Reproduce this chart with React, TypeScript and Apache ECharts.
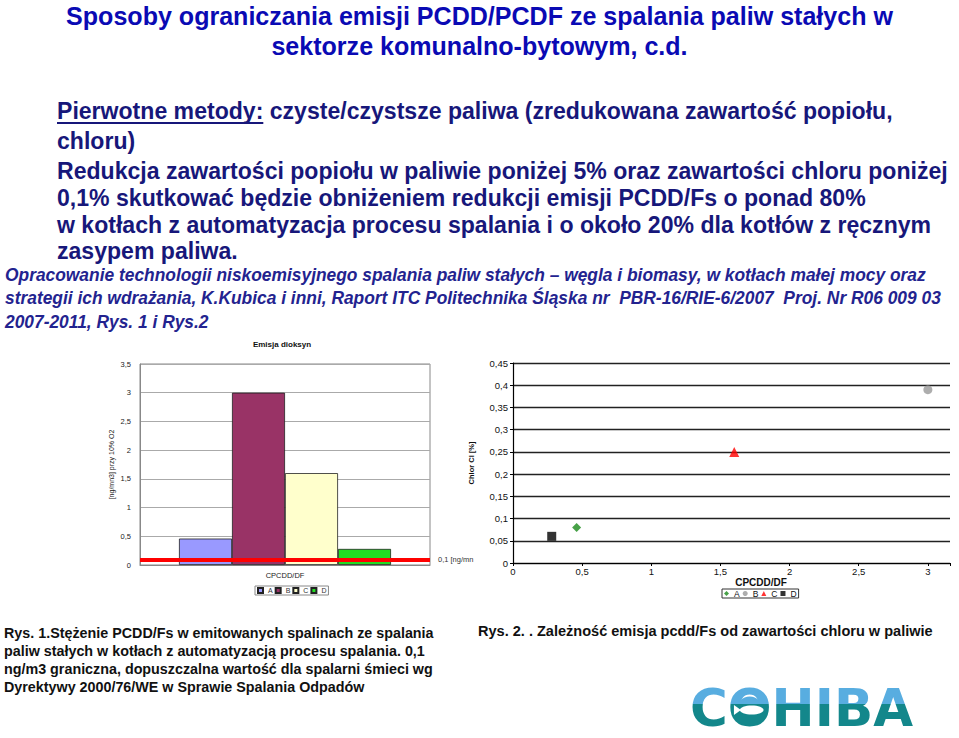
import React, { useEffect, useRef } from 'react';
import * as echarts from 'echarts';

// ---------- slide texts ----------
const titleLines = [
  'Sposoby ograniczania emisji PCDD/PCDF ze spalania paliw stałych w',
  'sektorze komunalno-bytowym, c.d.',
];
const bodyLead = 'Pierwotne metody:';
const bodyLines = [
  'Pierwotne metody: czyste/czystsze paliwa (zredukowana zawartość popiołu,',
  'chloru)',
  'Redukcja zawartości popiołu w paliwie poniżej 5% oraz zawartości chloru poniżej',
  '0,1% skutkować będzie obniżeniem redukcji emisji PCDD/Fs o ponad 80%',
  'w kotłach z automatyzacja procesu spalania i o około 20% dla kotłów z ręcznym',
  'zasypem paliwa.',
];
const sourceLines = [
  'Opracowanie technologii niskoemisyjnego spalania paliw stałych – węgla i biomasy, w kotłach małej mocy oraz',
  'strategii ich wdrażania, K.Kubica i inni, Raport ITC Politechnika Śląska nr  PBR-16/RIE-6/2007  Proj. Nr R06 009 03',
  '2007-2011, Rys. 1 i Rys.2',
];
const caption1Lines = [
  'Rys. 1.Stężenie PCDD/Fs w emitowanych spalinach ze spalania',
  'paliw stałych w kotłach z automatyzacją procesu spalania. 0,1',
  'ng/m3 graniczna, dopuszczalna wartość dla spalarni śmieci wg',
  'Dyrektywy 2000/76/WE w Sprawie Spalania Odpadów',
];
const caption2 = 'Rys. 2. . Zależność emisja pcdd/Fs od zawartości chloru w paliwie';
const logoText = 'COHIBA';

// ---------- chart data ----------
const barTitle = 'Emisja dioksyn';
const barCategories = ['CPCDD/DF'];
const sampleNames = ['A', 'B', 'C', 'D'];
const pcddValues = [0.46, 3.0, 1.6, 0.28];
const chlorineValues = [0.08, 0.39, 0.25, 0.06];
const limitValue = 0.1;
const limitLabel = '0,1 [ng/mn';
const barYAxisName = '[ng/mn3] przy 10% O2';
const scatterYAxisName = 'Chlor Cl [%]';
const scatterXAxisName = 'CPCDD/DF';

// ---------- styles ----------
const barColors = ['#9999ff', '#993366', '#ffffcc', '#22dd22'];
const scatterColors = ['#1a8a1a', '#999999', '#ff0000', '#000000'];
const scatterSymbols = ['diamond', 'circle', 'triangle', 'rect'];

const FF = '"Liberation Sans", Arial, sans-serif';
const LOGO_BLUE = '#58ade0';
const LOGO_TEAL = '#13878b';
const commaFmt = (v: number) => String(Math.round(v * 100) / 100).replace('.', ',');

export default function App() {
  const ref = useRef<HTMLDivElement>(null);
  useEffect(() => {
    const el = ref.current!;
    const chart = echarts.init(el, null, { renderer: 'svg' });
    const ctx = document.createElement('canvas').getContext('2d')!;
    const measure = (t: string, font: string) => {
      ctx.font = font;
      return ctx.measureText(t).width;
    };
    const fitSize = (t: string, weight: string, target: number) =>
      (20 * target) / measure(t, `${weight} 20px ${FF}`);

    const titleSize = fitSize(titleLines[0], 'bold', 827);
    const bodySize = fitSize(bodyLines[2], 'bold', 891);
    const srcFont = `italic bold 19px ${FF}`;
    const srcScale = 921 / measure(sourceLines[0], srcFont);
    const capSize = fitSize(caption1Lines[0], 'bold', 430);
    const cap2Size = fitSize(caption2, 'bold', 455);
    const logoFont = `bold 52px "DejaVu Sans", sans-serif`;
    const logoScale = 223 / measure(logoText, logoFont);
    const logoCW = measure('C', logoFont) * logoScale;
    const logoOW = measure('O', logoFont) * logoScale;
    const bodyFont = `bold ${bodySize}px ${FF}`;
    const leadWidth = measure(bodyLead, bodyFont);

    const txt = (
      text: string,
      x: number,
      y: number,
      font: string,
      fill: any,
      align = 'left',
      extra: any = {}
    ) => ({
      type: 'text',
      x,
      y,
      silent: true,
      style: { text, font, fill, align, verticalAlign: 'middle' },
      ...extra,
    });

    const titleY = [16, 46];
    const bodyY = [111, 141, 171, 198, 225, 251];
    const srcY = [275, 298, 322];
    const capY = [633, 651, 669, 687];

    const graphic: any[] = [];
    titleLines.forEach((t, i) =>
      graphic.push(txt(t, 479.5, titleY[i], `bold ${titleSize}px ${FF}`, '#0a0ab4', 'center'))
    );
    bodyLines.forEach((t, i) => graphic.push(txt(t, 57, bodyY[i], bodyFont, '#17177a')));
    graphic.push({
      type: 'line',
      silent: true,
      shape: { x1: 57, y1: 123, x2: 57 + leadWidth, y2: 123 },
      style: { stroke: '#17177a', lineWidth: 2 },
    });
    sourceLines.forEach((t, i) =>
      graphic.push(txt(t, 5, srcY[i], srcFont, '#23238f', 'left', { scaleX: srcScale }))
    );
    caption1Lines.forEach((t, i) =>
      graphic.push(txt(t, 4, capY[i], `bold ${capSize}px ${FF}`, '#111'))
    );
    graphic.push(txt(caption2, 478, 631, `bold ${cap2Size}px ${FF}`, '#111'));
    graphic.push(txt(barTitle, 282, 344, `bold 8px ${FF}`, '#111', 'center'));
    graphic.push(txt(scatterXAxisName, 761, 582, `bold 10px ${FF}`, '#111', 'center'));

    // logo
    const logoX = 690;
    const logoY = 708;
    graphic.push(txt(logoText, logoX, logoY, logoFont, LOGO_TEAL, 'left', { scaleX: logoScale }));
    const oCx = logoX + logoCW + logoOW / 2;
    graphic.push({
      type: 'ellipse',
      silent: true,
      shape: { cx: oCx, cy: logoY + 1, rx: logoOW * 0.3, ry: 12.5 },
      style: {
        fill: new echarts.graphic.LinearGradient(0, 0, 0, 1, [
          { offset: 0, color: LOGO_BLUE },
          { offset: 0.3, color: LOGO_BLUE },
          { offset: 0.3, color: LOGO_TEAL },
          { offset: 1, color: LOGO_TEAL },
        ]),
      },
    });
    graphic.push({
      type: 'ellipse',
      silent: true,
      shape: { cx: oCx + 2, cy: logoY + 2, rx: logoOW * 0.27, ry: 4.5 },
      style: { fill: '#ffffff' },
    });
    graphic.push({
      type: 'polygon',
      silent: true,
      shape: {
        points: [
          [oCx - logoOW * 0.2, logoY + 2],
          [oCx - logoOW * 0.36, logoY - 3],
          [oCx - logoOW * 0.36, logoY + 7],
        ],
      },
      style: { fill: '#ffffff' },
    });

    const series: any[] = [];
    sampleNames.forEach((n, i) => {
      series.push({
        type: 'bar',
        name: n,
        xAxisIndex: 0,
        yAxisIndex: 0,
        data: [pcddValues[i]],
        barWidth: 53,
        barGap: '0%',
        itemStyle: { color: barColors[i], borderColor: '#222', borderWidth: 0.8 },
        markLine:
          i === sampleNames.length - 1
            ? {
                silent: true,
                symbol: ['none', 'none'],
                lineStyle: { color: '#ff0000', width: 4, type: 'solid' },
                label: {
                  position: 'end',
                  formatter: limitLabel,
                  fontSize: 7.5,
                  color: '#333',
                  fontFamily: FF,
                  distance: 8,
                },
                data: [{ yAxis: limitValue }],
              }
            : undefined,
      });
    });
    sampleNames.forEach((n, i) => {
      series.push({
        type: 'scatter',
        name: n + ' ',
        xAxisIndex: 1,
        yAxisIndex: 1,
        data: [[pcddValues[i], chlorineValues[i]]],
        symbol: scatterSymbols[i],
        symbolSize: i === 2 ? 10 : 9,
        itemStyle: { color: scatterColors[i] },
      });
    });

    chart.setOption({
      animation: false,
      backgroundColor: '#ffffff',
      textStyle: { fontFamily: FF },
      graphic,
      grid: [
        { left: 140, top: 364, width: 290, height: 201, show: true, borderColor: '#888', borderWidth: 1 },
        { left: 513, top: 363, width: 437, height: 200 },
      ],
      legend: [
        {
          data: sampleNames,
          left: 255,
          top: 586,
          icon: 'rect',
          itemWidth: 5,
          itemHeight: 5,
          itemGap: 2,
          padding: [1, 2],
          borderColor: '#888',
          borderWidth: 1,
          textStyle: { fontSize: 7, color: '#333', fontFamily: FF },
        },
        {
          data: sampleNames.map((n) => n + ' '),
          formatter: (n: string) => n.trim(),
          left: 722,
          top: 589,
          itemWidth: 5,
          itemHeight: 5,
          itemGap: 3,
          padding: [0, 2],
          borderColor: '#333',
          borderWidth: 1,
          textStyle: { fontSize: 8.5, color: '#111', fontFamily: FF },
        },
      ],
      xAxis: [
        {
          gridIndex: 0,
          type: 'category',
          data: barCategories,
          axisLine: { lineStyle: { color: '#888' } },
          axisTick: { show: false },
          axisLabel: { fontSize: 7.5, color: '#222', margin: 6 },
        },
        {
          gridIndex: 1,
          type: 'value',
          min: 0,
          max: 3.16,
          interval: 0.5,
          axisLine: { lineStyle: { color: '#000', width: 1.2 } },
          axisTick: { length: 3, lineStyle: { color: '#000' } },
          splitLine: { show: false },
          axisLabel: {
            fontSize: 9.5,
            color: '#111',
            margin: 3,
            formatter: (v: number) => (v > 3.001 ? '' : commaFmt(v)),
          },
        },
      ],
      yAxis: [
        {
          gridIndex: 0,
          type: 'value',
          min: 0,
          max: 3.5,
          interval: 0.5,
          name: barYAxisName,
          nameLocation: 'middle',
          nameGap: 25,
          nameTextStyle: { fontSize: 7, color: '#222' },
          axisLine: { show: true, lineStyle: { color: '#888' } },
          axisTick: { show: false },
          splitLine: { lineStyle: { color: '#aaa' } },
          axisLabel: { fontSize: 7.5, color: '#222', margin: 9, formatter: commaFmt },
        },
        {
          gridIndex: 1,
          type: 'value',
          min: 0,
          max: 0.45,
          interval: 0.05,
          name: scatterYAxisName,
          nameLocation: 'middle',
          nameGap: 38,
          nameTextStyle: { fontSize: 7.5, fontWeight: 'bold', color: '#111' },
          axisLine: { show: true, lineStyle: { color: '#000', width: 1.2 } },
          axisTick: { show: true, length: 3, lineStyle: { color: '#000' } },
          splitLine: { lineStyle: { color: '#222', width: 1.3 } },
          axisLabel: { fontSize: 9.5, color: '#111', margin: 5, formatter: commaFmt },
        },
      ],
      series,
    });

    // two-tone fill of the logo lettering (SVG gradient on the real text node)
    const applyLogo = () => {
      const svg = el.querySelector('svg');
      if (!svg) return;
      const ns = 'http://www.w3.org/2000/svg';
      if (!svg.querySelector('#cohibaGrad')) {
        let defs = svg.querySelector('defs');
        if (!defs) {
          defs = document.createElementNS(ns, 'defs');
          svg.insertBefore(defs, svg.firstChild);
        }
        const grad = document.createElementNS(ns, 'linearGradient');
        grad.setAttribute('id', 'cohibaGrad');
        grad.setAttribute('x1', '0');
        grad.setAttribute('y1', '0');
        grad.setAttribute('x2', '0');
        grad.setAttribute('y2', '1');
        [
          ['0', LOGO_BLUE],
          ['0.43', LOGO_BLUE],
          ['0.43', LOGO_TEAL],
          ['1', LOGO_TEAL],
        ].forEach(([o, c]) => {
          const s = document.createElementNS(ns, 'stop');
          s.setAttribute('offset', o);
          s.setAttribute('stop-color', c);
          grad.appendChild(s);
        });
        defs.appendChild(grad);
      }
      svg.querySelectorAll('text').forEach((t) => {
        if (t.textContent === logoText) {
          t.setAttribute('fill', 'url(#cohibaGrad)');
          (t as SVGTextElement).style.fill = 'url(#cohibaGrad)';
        }
      });
    };
    applyLogo();
    chart.on('finished', applyLogo);
    return () => chart.dispose();
  }, []);
  return (
    <div
      ref={ref}
      style={{ position: 'fixed', left: 0, top: 0, width: 959, height: 738, background: '#fff' }}
    />
  );
}
